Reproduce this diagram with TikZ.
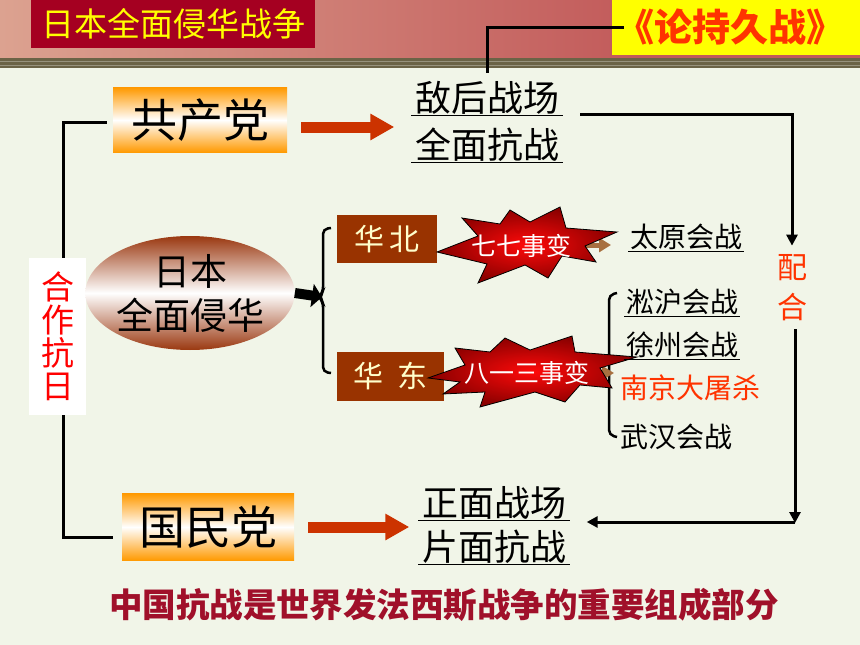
\documentclass[tikz,border=0pt]{standalone}
\usepackage{fontspec}
\setmainfont{Noto Sans CJK SC}
\usetikzlibrary{arrows.meta,shapes.geometric,calc}
\definecolor{bgc}{HTML}{F1F5E8}
\definecolor{hdrL}{HTML}{DCA290}
\definecolor{hdrR}{HTML}{C25A5A}
\definecolor{olivec}{HTML}{6B6346}
\definecolor{titlered}{HTML}{A50021}
\definecolor{yel}{HTML}{FFFF00}
\definecolor{orred}{HTML}{FF3300}
\definecolor{arrred}{HTML}{CC3300}
\definecolor{boxbrown}{HTML}{993300}
\definecolor{cream}{HTML}{FFFFCC}
\definecolor{orng}{HTML}{FF9900}
\definecolor{ellbrown}{HTML}{9A3810}
\definecolor{brarrow}{HTML}{A87040}
\definecolor{bottomred}{HTML}{A0102A}
\definecolor{burstin}{HTML}{FF0A0A}
\definecolor{burstout}{HTML}{8A0000}
\tikzset{
  fsz/.style={font=\fontsize{#1}{#1}\selectfont},
  partybox/.style={shade, top color=orng, bottom color=orng, middle color=white,
    minimum width=#1, minimum height=65pt, inner sep=0pt, fsz=46},
  regionbox/.style={fill=boxbrown, text=cream, minimum height=48pt, inner sep=0pt, fsz=30},
  uline/.style={inner sep=1.5pt, fsz=36},
  battle/.style={inner sep=1.5pt, fsz=28},
  conn/.style={line width=3pt},
  connarrow/.style={line width=3pt, -{Triangle[length=11pt,width=11pt]}},
  redarrow/.style={arrred, line width=11pt, -{Triangle[length=24pt,width=25pt]}},
  brownarrow/.style={brarrow, line width=5pt, -{Triangle[length=12pt,width=14pt]}},
  burst/.style={inner color=burstin, outer color=burstout, draw=black, line width=0.8pt},
  bursttext/.style={text=white, inner sep=0pt, fsz=25},
  brace/.style={line width=2.5pt, rounded corners=5pt},
  underl/.style={line width=1.3pt}
}
\begin{document}
\begin{tikzpicture}[x=1pt,y=-1pt]
\useasboundingbox (0,0) rectangle (860,645);
% background and header
\fill[bgc] (0,0) rectangle (860,645);
\shade[left color=hdrL, right color=hdrR] (0,0) rectangle (640,58);
\fill[hdrR] (639,0) rectangle (860,58);
\fill[olivec] (0,58) rectangle (860,68);
\draw[olivec!70!white, line width=0.5pt] (0,61) -- (860,61) (0,65) -- (860,65);

% title boxes
\node[fill=titlered, text=yel, minimum width=284pt, minimum height=48pt, inner sep=0pt,
      anchor=north west, fsz=33] (title) at (31,0) {日本全面侵华战争};
\node[fill=yel, minimum width=248pt, minimum height=55pt, inner sep=0pt,
      anchor=north west] (ybox) at (612,0) {};
\node[text=orred, inner sep=0pt, font=\fontsize{38}{38}\selectfont\bfseries] (lcjz) at (730,27) {《论持久战》};

% party boxes
\node[partybox=174pt] (gcd) at (200,120) {共产党};
\node[partybox=172pt, minimum height=67pt] (gmd) at (208,527) {国民党};

% battlefield texts
\node[uline] (dh1) at (487,98) {敌后战场};
\node[uline] (dh2) at (487,145) {全面抗战};
\node[uline] (zm1) at (494,503) {正面战场};
\node[uline] (zm2) at (494,547) {片面抗战};
\foreach \n in {dh1,dh2,zm1,zm2}
  \draw[underl] ([xshift=-2pt,yshift=1pt]\n.south west) -- ([xshift=2pt,yshift=1pt]\n.south east);

% connector from 论持久战
\draw[conn] ([xshift=8pt]lcjz.west) -| ([yshift=7pt]dh1.north);

% left bracket
\coordinate (lbt) at (63,122);
\coordinate (lbb) at (63,537);
\draw[conn] ([xshift=-6pt,yshift=-2pt]gcd.west) -- (lbt) -- (lbb) -- ([xshift=-9pt]gmd.west |- lbb);
\node[fill=white, text=red, minimum width=57pt, minimum height=157pt, inner sep=0pt,
      align=center, font=\fontsize{33}{33}\selectfont] (hzkr) at (57.5,336.5) {合\\作\\抗\\日};

% red arrows
\draw[redarrow] ([xshift=14pt,yshift=-7pt]gcd.east) -- ([xshift=-19pt,yshift=-7pt]gcd.east -| dh1.west);
\draw[redarrow] ([xshift=14pt]gmd.east) -- ([xshift=-11pt]gmd.east -| zm1.west);

% ellipse
\node[ellipse, shade, top color=ellbrown, bottom color=ellbrown, middle color=white,
      minimum width=206pt, minimum height=114pt, inner sep=0pt, align=center,
      font=\fontsize{37}{44}\selectfont] (ell) at (190,293) {日本\\全面侵华};

% brace left of regions
\coordinate (brtip) at (319,297);
\draw[brace] (331,228) -- (323,229) -- (323,292) -- (brtip) -- (323,302) -- (323,372) -- (331,373);
\draw[black, line width=10pt, -{Triangle[length=10pt,width=23pt]}] (ell.east) -- ([xshift=3pt]brtip);

% region boxes
\node[regionbox, minimum width=100pt] (hb) at (387,239) {华\,北};
\node[regionbox, minimum width=107pt, minimum height=49pt] (hd) at (390.5,376) {华\ \ 东};

% right bracket for battles
\draw[brace] (617,293) -- (609,295) -- (609,435) -- (617,437);

% brown small arrows
\coordinate (ba1) at (582,245);
\coordinate (ba2) at (598,373);
\draw[brownarrow] (ba1) -- ([xshift=-18pt]ba1 -| 629,0);
\draw[brownarrow] (ba2) -- (614,373);

% bursts
\shadedraw[burst] (437,252) -- (478,236) -- (462,218) -- (500,224) -- (510,210) -- (530,222)
  -- (560,207) -- (566,228) -- (617,232) -- (585,246) -- (596,262) -- (562,256) -- (548,278)
  -- (525,265) -- (478,283) -- (487,264) -- cycle;
\node[bursttext] (b1) at (521,246) {七七事变};
\shadedraw[burst] (428,378) -- (465,365) -- (455,348) -- (490,352) -- (505,338) -- (530,350)
  -- (572,336) -- (575,352) -- (637,357) -- (600,368) -- (612,388) -- (580,385) -- (565,402)
  -- (535,392) -- (480,407) -- (485,392) -- (443,394) -- (460,382) -- cycle;
\node[bursttext] (b2) at (527,373) {八一三事变};

% battles
\node[battle] (ty) at (686,237) {太原会战};
\node[battle] (sh) at (682,302) {淞沪会战};
\node[battle] (xz) at (682,345) {徐州会战};
\node[battle, text=orred] (nj) at (690,388) {南京大屠杀};
\node[battle] (wh) at (676,437) {武汉会战};
\foreach \n in {ty,sh,xz}
  \draw[line width=1.2pt] (\n.south west) -- (\n.south east);

% 配合
\node[text=orred, inner sep=0pt, fsz=30] (pei) at (792,268) {配};
\node[text=orred, inner sep=0pt, fsz=30] (he) at (792,307) {合};

% right side connectors
\coordinate (rc1) at (580,114);
\draw[connarrow] (rc1) -| ([yshift=9pt]pei.north);
\coordinate (rc2) at (795,522);
\draw[connarrow] ([yshift=-8pt]he.south -| rc2) -- ([yshift=-1pt]rc2);
\draw[connarrow] (rc2) -- ([xshift=19pt]rc2 -| zm1.east);

% bottom statement
\node[text=bottomred, inner sep=0pt, font=\fontsize{33.5}{34}\selectfont\bfseries] (stmt) at (444,605)
  {中国抗战是世界发法西斯战争的重要组成部分};
\end{tikzpicture}
\end{document}
